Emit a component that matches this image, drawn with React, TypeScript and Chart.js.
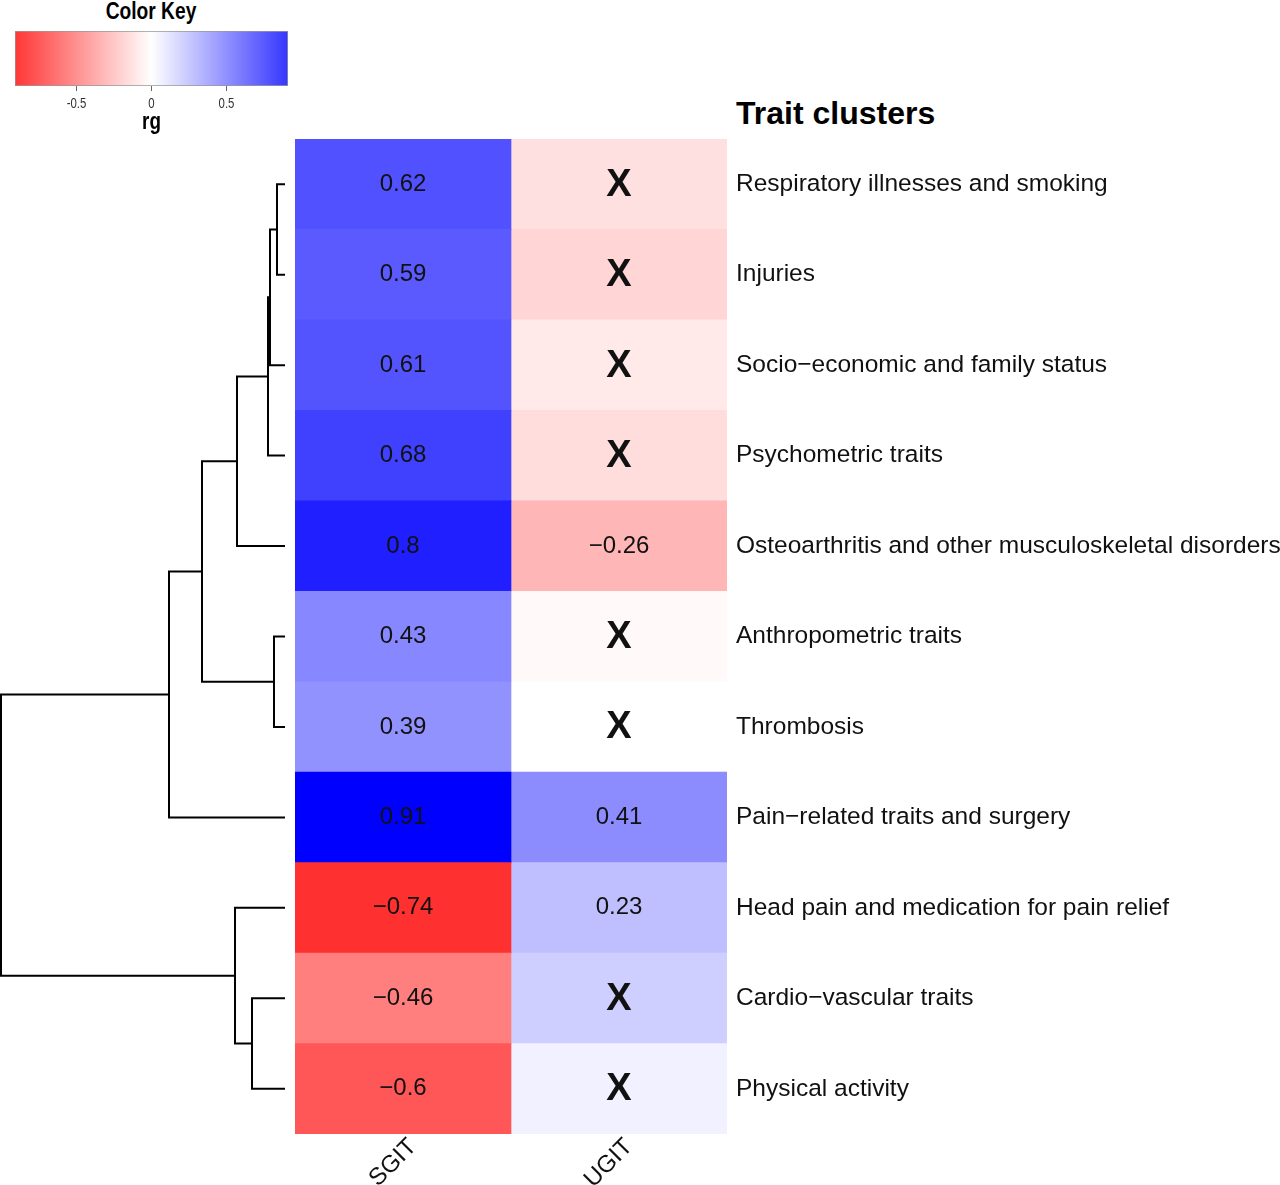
import React, { useEffect, useRef } from 'react';
import { Chart, registerables } from 'chart.js';

Chart.register(...registerables);

// ---------------- data ----------------
const traits = [
  'Respiratory illnesses and smoking',
  'Injuries',
  'Socio\u2212economic and family status',
  'Psychometric traits',
  'Osteoarthritis and other musculoskeletal disorders',
  'Anthropometric traits',
  'Thrombosis',
  'Pain\u2212related traits and surgery',
  'Head pain and medication for pain relief',
  'Cardio\u2212vascular traits',
  'Physical activity',
];
const columns = ['SGIT', 'UGIT'];
const sgitValues = [0.62, 0.59, 0.61, 0.68, 0.8, 0.43, 0.39, 0.91, -0.74, -0.46, -0.6];
const ugitValues = [-0.11, -0.15, -0.08, -0.12, -0.26, -0.02, 0.0, 0.41, 0.23, 0.17, 0.05];
const sgitSignificant = [true, true, true, true, true, true, true, true, true, true, true];
const ugitSignificant = [false, false, false, false, true, false, false, true, true, false, false];

const keyMin = -0.91;
const keyMax = 0.91;
const keyTicks = [-0.5, 0, 0.5];
const keyTitle = 'rg';

// dendrogram (row clustering): children are leaf row indices or earlier merge names
const mergeNames = ['A', 'B', 'C', 'D', 'E', 'G', 'F', 'H', 'I', 'Root'];
const mergeChildren: Array<[number | string, number | string]> = [
  [0, 1], ['A', 2], ['B', 3], ['C', 4], [5, 6], ['D', 'E'], ['G', 7], [9, 10], [8, 'H'], ['F', 'I'],
];
const mergeHeights = [0.08, 0.15, 0.17, 0.48, 0.11, 0.83, 1.16, 0.33, 0.5, 2.84];

// ---------------- helpers ----------------
const FONT = '"Liberation Sans", Arial, sans-serif';

function rgColour(v: number): string {
  const t = Math.min(1, Math.abs(v) / keyMax);
  const c = Math.round(255 * (1 - t));
  return v < 0 ? `rgb(255,${c},${c})` : `rgb(${c},${c},255)`;
}

function fmt(v: number): string {
  return v < 0 ? '\u2212' + String(Math.abs(v)) : String(v);
}

function buildDendrogram() {
  const pos: Record<string, number> = {};
  const hgt: Record<string, number> = {};
  const cp = (c: number | string) => (typeof c === 'number' ? c : pos[c]);
  const ch = (c: number | string) => (typeof c === 'number' ? 0 : hgt[c]);
  return mergeNames.map((name, i) => {
    const [a, b] = mergeChildren[i];
    const h = mergeHeights[i];
    const pa = cp(a);
    const pb = cp(b);
    const ds = {
      data: [
        { x: ch(a), y: pa },
        { x: h, y: pa },
        { x: h, y: pb },
        { x: ch(b), y: pb },
      ],
      showLine: true,
      borderColor: '#000',
      borderWidth: 2,
      pointRadius: 0,
      borderJoinStyle: 'miter' as const,
      clip: 4,
    };
    pos[name] = (pa + pb) / 2;
    hgt[name] = h;
    return ds;
  });
}

const cellTextPlugin = {
  id: 'cellText',
  afterDatasetsDraw(chart: any) {
    const ctx = chart.ctx;
    const vals = [sgitValues, ugitValues];
    const sig = [sgitSignificant, ugitSignificant];
    ctx.save();
    ctx.textAlign = 'center';
    ctx.textBaseline = 'middle';
    ctx.fillStyle = '#111';
    for (let d = 0; d < 2; d++) {
      const meta = chart.getDatasetMeta(d);
      meta.data.forEach((bar: any, i: number) => {
        const { x, y, base } = bar.getProps(['x', 'y', 'base'], true);
        const cx = (x + base) / 2;
        if (sig[d][i]) {
          ctx.font = `24px ${FONT}`;
          ctx.fillText(fmt(vals[d][i]), cx, y);
        } else {
          ctx.font = `bold 38px ${FONT}`;
          ctx.fillText('X', cx, y + 1);
        }
      });
    }
    ctx.restore();
  },
};

// rotated column labels under the heatmap
const columnLabelPlugin = {
  id: 'columnLabels',
  afterDraw(chart: any) {
    const ctx = chart.ctx;
    const xs = chart.scales.x;
    const bottom = chart.chartArea.bottom;
    ctx.save();
    ctx.font = `24px ${FONT}`;
    ctx.fillStyle = '#111';
    ctx.textAlign = 'right';
    ctx.textBaseline = 'middle';
    columns.forEach((lab, i) => {
      const px = xs.getPixelForValue(i + 0.5);
      ctx.save();
      ctx.translate(px + 10, bottom + 9);
      ctx.rotate(-Math.PI / 4);
      ctx.fillText(lab, 0, 0);
      ctx.restore();
    });
    ctx.restore();
  },
};

// narrow tick labels + title for the colour key
const keyLabelPlugin = {
  id: 'keyLabels',
  afterDraw(chart: any) {
    const ctx = chart.ctx;
    const xs = chart.scales.x;
    const area = chart.chartArea;
    ctx.save();
    ctx.fillStyle = '#333';
    ctx.textAlign = 'center';
    ctx.textBaseline = 'alphabetic';
    ctx.font = `15px ${FONT}`;
    keyTicks.forEach((v) => {
      ctx.save();
      ctx.translate(xs.getPixelForValue(v), area.bottom + 22);
      ctx.scale(0.76, 1);
      ctx.fillText(String(v), 0, 0);
      ctx.restore();
    });
    ctx.fillStyle = '#000';
    ctx.font = `bold 23px ${FONT}`;
    ctx.save();
    ctx.translate(xs.getPixelForValue(0), area.bottom + 43);
    ctx.scale(0.82, 1);
    ctx.fillText(keyTitle, 0, 0);
    ctx.restore();
    ctx.restore();
  },
};

export default function App() {
  const heatRef = useRef<HTMLCanvasElement>(null);
  const dendRef = useRef<HTMLCanvasElement>(null);
  const keyRef = useRef<HTMLCanvasElement>(null);

  useEffect(() => {
    const charts: Chart[] = [];

    // heatmap
    charts.push(
      new Chart(heatRef.current as HTMLCanvasElement, {
        type: 'bar',
        data: {
          labels: traits,
          datasets: [
            {
              label: columns[0],
              data: traits.map(() => [0, 1]) as any,
              backgroundColor: sgitValues.map(rgColour),
              grouped: false,
              barPercentage: 1,
              categoryPercentage: 1,
              borderWidth: 0,
            },
            {
              label: columns[1],
              data: traits.map(() => [1, 2]) as any,
              backgroundColor: ugitValues.map(rgColour),
              grouped: false,
              barPercentage: 1,
              categoryPercentage: 1,
              borderWidth: 0,
            },
          ],
        },
        options: {
          indexAxis: 'y',
          responsive: false,
          animation: false,
          layout: { padding: { top: 0, left: 0, right: 0, bottom: 51 } },
          plugins: { legend: { display: false }, tooltip: { enabled: false } },
          scales: {
            x: { type: 'linear', min: 0, max: 2, display: false },
            y: {
              type: 'category',
              position: 'right',
              grid: { display: false, drawTicks: false },
              border: { display: false },
              ticks: { padding: 9, color: '#111', font: { family: FONT, size: 24.5 }, autoSkip: false },
              afterFit: (s: any) => {
                s.width = 553;
                s.paddingTop = 0;
                s.paddingBottom = 0;
              },
            },
          },
        },
        plugins: [cellTextPlugin, columnLabelPlugin],
      } as any)
    );

    // dendrogram
    charts.push(
      new Chart(dendRef.current as HTMLCanvasElement, {
        type: 'scatter',
        data: { datasets: buildDendrogram() as any },
        options: {
          responsive: false,
          animation: false,
          layout: { padding: 0 },
          plugins: { legend: { display: false }, tooltip: { enabled: false } },
          scales: {
            x: { type: 'linear', reverse: true, min: -0.1, max: 2.85, display: false },
            y: { type: 'linear', reverse: true, min: -0.5, max: traits.length - 0.5, display: false },
          },
        },
      } as any)
    );

    // colour key
    charts.push(
      new Chart(keyRef.current as HTMLCanvasElement, {
        type: 'bar',
        data: {
          labels: [keyTitle],
          datasets: [
            {
              data: [[keyMin, keyMax]] as any,
              backgroundColor: (c: any) => {
                const area = c.chart.chartArea;
                if (!area) return '#fff';
                const g = c.chart.ctx.createLinearGradient(area.left, 0, area.right, 0);
                g.addColorStop(0, '#ff3636');
                g.addColorStop(0.5, '#ffffff');
                g.addColorStop(1, '#3636ff');
                return g;
              },
              borderColor: '#999',
              borderWidth: 1,
              borderSkipped: false,
              barPercentage: 1,
              categoryPercentage: 1,
            },
          ],
        },
        options: {
          indexAxis: 'y',
          responsive: false,
          animation: false,
          layout: { padding: { left: 15, right: 12, top: 31, bottom: 0 } },
          plugins: { legend: { display: false }, tooltip: { enabled: false } },
          scales: {
            x: {
              type: 'linear',
              min: keyMin,
              max: keyMax,
              afterBuildTicks: (s: any) => {
                s.ticks = keyTicks.map((v) => ({ value: v }));
              },
              grid: { drawOnChartArea: false, drawTicks: true, tickLength: 5, color: '#666' },
              border: { display: false },
              ticks: { display: false },
              afterFit: (s: any) => {
                s.height = 54;
                s.paddingLeft = 0;
                s.paddingRight = 0;
              },
            },
            y: { display: false },
          },
        },
        plugins: [keyLabelPlugin],
      } as any)
    );

    return () => charts.forEach((c) => c.destroy());
  }, []);

  return (
    <div
      style={{
        position: 'absolute',
        left: 0,
        top: 0,
        width: 1280,
        height: 1185,
        background: '#fff',
        overflow: 'hidden',
      }}
    >
      <div
        style={{
          position: 'absolute',
          left: 0,
          top: -1,
          width: 302,
          textAlign: 'center',
          font: `bold 24px ${FONT}`,
          lineHeight: '24px',
          whiteSpace: 'nowrap',
          color: '#000',
          transform: 'scaleX(0.8)',
          transformOrigin: '151px 0',
        }}
      >
        Color Key
      </div>
      <canvas
        ref={keyRef}
        width={300}
        height={140}
        style={{ position: 'absolute', left: 0, top: 0, width: 300, height: 140 }}
      />
      <div
        style={{
          position: 'absolute',
          left: 736,
          top: 97,
          font: `bold 32px ${FONT}`,
          lineHeight: '32px',
          whiteSpace: 'nowrap',
          color: '#000',
        }}
      >
        Trait clusters
      </div>
      <canvas
        ref={dendRef}
        width={295}
        height={995}
        style={{ position: 'absolute', left: 0, top: 139, width: 295, height: 995 }}
      />
      <canvas
        ref={heatRef}
        width={985}
        height={1046}
        style={{ position: 'absolute', left: 295, top: 139, width: 985, height: 1046 }}
      />
    </div>
  );
}
